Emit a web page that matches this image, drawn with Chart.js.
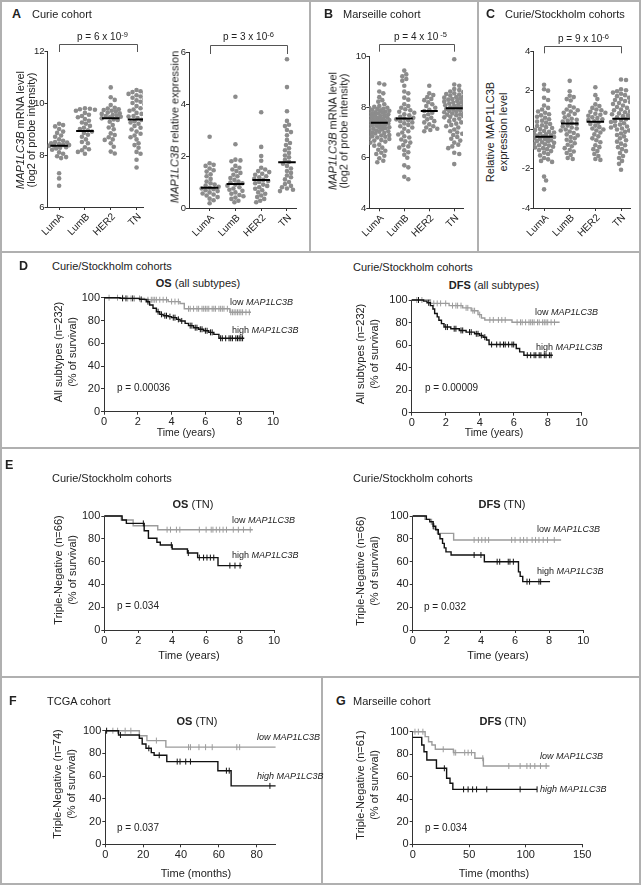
<!DOCTYPE html>
<html>
<head>
<meta charset="utf-8">
<script src="https://cdn.jsdelivr.net/npm/chart.js@4.4.1/dist/chart.umd.min.js"></script>
<style>
html, body { margin: 0; padding: 0; background: #fff; }
#fig { position: relative; width: 641px; height: 885px; overflow: hidden; background: #fff;
       font-family: "Liberation Sans", Arial, sans-serif; color: #222; }
#fig canvas { position: absolute; }
.t { position: absolute; white-space: nowrap; line-height: 1; }
.rl { position: absolute; background: #b0b0b0; }
.sup { position: relative; top: -0.45em; font-size: 0.75em; }
</style>
</head>
<body>
<div id="fig"></div>
<script>
// ---- categories / ticks ----
const subtypes = ['LumA', 'LumB', 'HER2', 'TN'];
const a1Ticks = [6, 8, 10, 12];
const a2Ticks = [0, 2, 4, 6];
const bTicks = [4, 6, 8, 10];
const cTicks = [-4, -2, 0, 2, 4];
const survTicks = [0, 20, 40, 60, 80, 100];
const yearTicks = [0, 2, 4, 6, 8, 10];
const tcgaTicks = [0, 20, 40, 60, 80];
const marsTicks = [0, 50, 100, 150];

// ---- A: Curie cohort, mRNA level ----
const a1LumA = [9.2, 9.15, 9.1, 9.0, 8.9, 8.85, 8.75, 8.7, 8.6, 8.55, 8.5, 8.48, 8.45, 8.42, 8.4, 8.38, 8.36, 8.35, 8.3, 8.28, 8.25, 8.2, 8.1, 8.05, 7.95, 7.92, 7.88, 7.3, 7.1, 6.82];
const a1LumB = [9.8, 9.78, 9.76, 9.74, 9.7, 9.62, 9.55, 9.5, 9.45, 9.38, 9.32, 9.25, 9.2, 9.12, 9.05, 9.0, 8.95, 8.9, 8.85, 8.78, 8.7, 8.6, 8.5, 8.45, 8.3, 8.22, 8.18, 8.12, 8.05];
const a1HER2 = [10.6, 10.22, 10.12, 9.92, 9.82, 9.79, 9.76, 9.73, 9.7, 9.67, 9.63, 9.6, 9.58, 9.54, 9.52, 9.5, 9.47, 9.45, 9.41, 9.37, 9.35, 9.28, 9.15, 9.06, 8.99, 8.83, 8.77, 8.68, 8.6, 8.58, 8.45, 8.32, 8.13, 8.06];
const a1TN = [10.5, 10.45, 10.42, 10.38, 10.35, 10.3, 10.25, 10.2, 10.15, 10.1, 10.05, 10.0, 9.95, 9.88, 9.8, 9.75, 9.7, 9.62, 9.58, 9.5, 9.48, 9.42, 9.35, 9.3, 9.25, 9.2, 9.12, 9.05, 8.98, 8.9, 8.82, 8.75, 8.68, 8.6, 8.45, 8.38, 8.28, 8.12, 8.05, 7.82, 7.52];
const a1Means = [8.36, 8.92, 9.41, 9.37];

// ---- A: Curie cohort, relative expression ----
const a2LumA = [2.74, 1.72, 1.66, 1.62, 1.52, 1.45, 1.4, 1.3, 1.22, 1.12, 1.02, 0.95, 0.9, 0.86, 0.82, 0.78, 0.75, 0.72, 0.68, 0.65, 0.6, 0.56, 0.52, 0.48, 0.42, 0.36, 0.3, 0.18];
const a2LumB = [4.28, 2.45, 1.86, 1.83, 1.8, 1.62, 1.55, 1.48, 1.42, 1.35, 1.28, 1.22, 1.15, 1.08, 1.02, 0.98, 0.95, 0.9, 0.86, 0.8, 0.75, 0.7, 0.66, 0.6, 0.55, 0.5, 0.45, 0.4, 0.35, 0.28, 0.22];
const a2HER2 = [3.68, 2.35, 2.0, 1.82, 1.55, 1.48, 1.42, 1.38, 1.32, 1.28, 1.22, 1.18, 1.12, 1.08, 1.04, 1.0, 0.95, 0.9, 0.85, 0.8, 0.74, 0.68, 0.6, 0.55, 0.48, 0.42, 0.35, 0.28, 0.22];
const a2TN = [5.72, 4.65, 3.72, 3.35, 3.2, 3.15, 3.0, 2.92, 2.8, 2.62, 2.5, 2.42, 2.3, 2.22, 2.12, 2.02, 1.95, 1.85, 1.78, 1.7, 1.62, 1.52, 1.42, 1.35, 1.25, 1.18, 1.1, 1.0, 0.92, 0.85, 0.8, 0.75, 0.7, 0.65];
const a2Means = [0.78, 0.92, 1.08, 1.76];

// ---- B: Marseille cohort ----
const bLumA = [8.95, 8.9, 8.62, 8.55, 8.4, 8.28, 8.22, 8.12, 8.05, 8.02, 7.98, 7.97, 7.94, 7.93, 7.9, 7.88, 7.86, 7.85, 7.82, 7.8, 7.79, 7.76, 7.75, 7.72, 7.7, 7.68, 7.66, 7.65, 7.62, 7.6, 7.58, 7.57, 7.55, 7.52, 7.5, 7.49, 7.47, 7.45, 7.43, 7.41, 7.4, 7.38, 7.36, 7.33, 7.31, 7.3, 7.27, 7.25, 7.24, 7.21, 7.19, 7.17, 7.15, 7.12, 7.1, 7.08, 7.05, 7.03, 7.0, 6.98, 6.96, 6.93, 6.9, 6.88, 6.85, 6.83, 6.8, 6.78, 6.74, 6.7, 6.68, 6.64, 6.6, 6.52, 6.48, 6.4, 6.32, 6.28, 6.2, 6.15, 6.08, 5.98, 5.88, 5.82];
const bLumB = [9.45, 9.3, 9.22, 9.12, 9.05, 8.85, 8.62, 8.55, 8.38, 8.3, 8.12, 8.05, 7.98, 7.92, 7.88, 7.82, 7.78, 7.72, 7.68, 7.62, 7.58, 7.55, 7.52, 7.48, 7.45, 7.4, 7.36, 7.3, 7.25, 7.2, 7.15, 7.05, 7.0, 6.92, 6.85, 6.8, 6.72, 6.65, 6.6, 6.5, 6.45, 6.4, 6.3, 6.22, 6.12, 6.0, 5.7, 5.62, 5.25, 5.15];
const bHER2 = [8.85, 8.55, 8.48, 8.4, 8.33, 8.28, 8.2, 8.12, 8.05, 7.98, 7.9, 7.85, 7.78, 7.72, 7.65, 7.58, 7.52, 7.45, 7.4, 7.32, 7.25, 7.2, 7.15, 7.1, 7.05];
const bTN = [9.9, 8.9, 8.85, 8.72, 8.68, 8.62, 8.6, 8.55, 8.52, 8.5, 8.46, 8.42, 8.4, 8.38, 8.35, 8.32, 8.3, 8.28, 8.25, 8.22, 8.2, 8.18, 8.15, 8.12, 8.1, 8.08, 8.05, 8.02, 8.0, 7.98, 7.95, 7.93, 7.9, 7.88, 7.85, 7.82, 7.8, 7.78, 7.75, 7.72, 7.7, 7.68, 7.65, 7.62, 7.6, 7.55, 7.5, 7.45, 7.4, 7.35, 7.3, 7.25, 7.2, 7.12, 7.05, 7.0, 6.95, 6.9, 6.82, 6.75, 6.68, 6.6, 6.52, 6.45, 6.38, 6.2, 6.15, 5.75];
const bMeans = [7.39, 7.55, 7.85, 7.96];

// ---- C: Curie/Stockholm cohorts ----
const cLumA = [2.28, 2.05, 1.98, 1.62, 1.5, 1.22, 1.1, 1.02, 0.92, 0.85, 0.78, 0.72, 0.65, 0.6, 0.52, 0.45, 0.4, 0.35, 0.28, 0.22, 0.18, 0.12, 0.08, 0.02, -0.02, -0.08, -0.12, -0.15, -0.2, -0.22, -0.25, -0.3, -0.32, -0.35, -0.38, -0.42, -0.45, -0.48, -0.5, -0.55, -0.58, -0.6, -0.65, -0.68, -0.72, -0.75, -0.8, -0.82, -0.88, -0.92, -0.95, -1.0, -1.05, -1.1, -1.18, -1.25, -1.32, -1.45, -1.52, -1.6, -1.65, -2.4, -2.6, -3.05];
const cLumB = [2.48, 1.95, 1.72, 1.65, 1.55, 1.48, 1.2, 1.12, 1.02, 0.98, 0.92, 0.85, 0.8, 0.72, 0.62, 0.55, 0.5, 0.45, 0.4, 0.32, 0.28, 0.2, 0.15, 0.1, 0.05, 0.0, -0.05, -0.1, -0.18, -0.25, -0.3, -0.38, -0.45, -0.52, -0.6, -0.7, -0.78, -0.85, -0.95, -1.05, -1.12, -1.2, -1.3, -1.45, -1.5];
const cHER2 = [2.15, 1.75, 1.55, 1.28, 1.2, 1.1, 1.02, 0.98, 0.9, 0.85, 0.8, 0.75, 0.7, 0.62, 0.58, 0.52, 0.48, 0.42, 0.35, 0.28, 0.2, 0.12, 0.05, 0.0, -0.05, -0.15, -0.25, -0.35, -0.45, -0.55, -0.65, -0.8, -0.9, -1.0, -1.1, -1.25, -1.35, -1.5, -1.55];
const cTN = [2.55, 2.52, 2.05, 2.0, 1.95, 1.88, 1.82, 1.75, 1.7, 1.62, 1.55, 1.5, 1.45, 1.4, 1.35, 1.3, 1.22, 1.15, 1.1, 1.02, 0.98, 0.92, 0.88, 0.82, 0.78, 0.72, 0.68, 0.62, 0.58, 0.52, 0.48, 0.42, 0.38, 0.32, 0.25, 0.2, 0.15, 0.1, 0.05, 0.0, -0.05, -0.12, -0.2, -0.28, -0.35, -0.45, -0.55, -0.62, -0.72, -0.8, -0.9, -1.0, -1.1, -1.2, -1.35, -1.45, -1.6, -1.75, -2.05];
const cMeans = [-0.37, 0.31, 0.39, 0.55];

// ---- D: OS / DFS all subtypes (years, % survival) ----
const dOsLowT = [0, 1.2, 2.4, 3.8, 4.5, 4.75, 7.45];
const dOsLowS = [100, 99.3, 98.2, 96.6, 94.9, 90.3, 87.2];
const dOsLowCens = [0.3, 0.8, 1.1, 1.4, 1.6, 1.8, 2.1, 2.6, 2.8, 2.9, 3.0, 3.1, 3.3, 3.5, 3.7, 4.0, 4.2, 4.4, 5.0, 5.1, 5.3, 5.5, 5.6, 5.8, 5.9, 6.0, 6.1, 6.2, 6.4, 6.5, 6.6, 6.8, 6.9, 7.0, 7.1, 7.3, 7.5, 7.6, 7.7, 7.8, 7.9, 8.0, 8.1, 8.2, 8.4, 8.6];
const dOsHighT = [0, 0.95, 2.1, 2.5, 2.7, 2.9, 3.1, 3.3, 3.5, 3.8, 4.0, 4.3, 4.5, 4.8, 5.0, 5.3, 5.6, 5.9, 6.2, 6.5, 6.8];
const dOsHighS = [100, 99.4, 98.5, 96.5, 93.6, 90.7, 87.7, 85.4, 84.2, 83.4, 82.5, 81, 79.6, 77.5, 75.5, 73.7, 72.3, 71, 69.6, 67.8, 64.4];
const dOsHighCens = [1.1, 1.3, 1.7, 2.2, 2.6, 3.2, 3.4, 3.6, 3.7, 3.9, 4.1, 4.2, 4.4, 4.6, 5.1, 5.2, 5.4, 5.5, 5.7, 5.8, 6.0, 6.1, 6.3, 6.4, 6.9, 7.0, 7.2, 7.4, 7.5, 7.6, 7.8, 7.9, 8.0, 8.1, 8.2];
const dDfsLowT = [0, 1.1, 2.2, 3.0, 3.5, 3.9, 4.1, 4.3, 5.9];
const dDfsLowS = [100, 97, 95, 93, 90.5, 87, 84, 82.3, 80.2];
const dDfsLowCens = [0.3, 0.6, 1.3, 1.5, 1.7, 2.0, 2.4, 2.6, 2.7, 2.9, 3.2, 3.3, 3.6, 3.7, 4.0, 4.6, 4.8, 5.1, 5.3, 5.5, 6.2, 6.4, 6.5, 6.7, 6.9, 7.0, 7.1, 7.2, 7.4, 7.5, 7.7, 7.8, 7.9, 8.0, 8.2, 8.4];
const dDfsHighT = [0, 0.7, 0.9, 1.1, 1.25, 1.35, 1.5, 1.6, 1.75, 1.9, 2.3, 2.8, 3.2, 3.7, 4.0, 4.2, 4.4, 4.55, 6.15, 6.35, 6.6];
const dDfsHighS = [100, 99, 97.5, 95, 92, 88, 85, 82, 79, 76, 74.5, 73, 71.5, 70, 68.5, 67, 64.5, 60.5, 57, 54, 51];
const dDfsHighCens = [0.4, 1.0, 2.0, 2.1, 2.5, 2.6, 2.9, 3.0, 3.4, 3.5, 3.8, 3.9, 4.1, 4.3, 4.7, 5.0, 5.2, 5.4, 5.5, 5.7, 5.9, 6.0, 6.8, 7.0, 7.2, 7.3, 7.5, 7.6, 7.8, 7.9, 8.1, 8.2];

// ---- E: OS / DFS triple-negative (years) ----
const eOsLowT = [0, 1.0, 1.7, 3.15];
const eOsLowS = [100, 96.5, 91.5, 88];
const eOsLowCens = [3.7, 3.9, 4.25, 4.45, 5.6, 6.0, 6.3, 6.4, 6.6, 6.8, 7.0, 7.2, 7.6, 7.9, 8.2, 8.6];
const eOsHighT = [0, 1.05, 1.3, 2.35, 2.6, 3.1, 3.3, 4.0, 4.9, 5.5, 6.7];
const eOsHighS = [100, 96.5, 93.5, 87, 80.5, 77, 74.5, 71, 67.5, 63.5, 56.5];
const eOsHighCens = [2.3, 3.95, 4.95, 5.6, 5.85, 6.05, 6.25, 6.45, 7.4, 7.7, 8.0];
const eDfsLowT = [0, 0.72, 1.1, 1.25, 1.45, 2.4];
const eDfsLowS = [100, 97, 93, 88.5, 84.8, 79];
const eDfsLowCens = [3.6, 3.85, 4.05, 4.25, 4.45, 5.8, 6.0, 6.3, 6.5, 6.7, 7.0, 7.2, 7.4, 7.65, 7.9, 8.3];
const eDfsHighT = [0, 0.8, 1.0, 1.2, 1.35, 1.5, 1.6, 1.75, 1.85, 1.95, 2.25, 4.2, 6.2, 6.3, 6.45];
const eDfsHighS = [100, 97, 95, 91, 88, 84, 80, 76, 72, 68.5, 65.8, 59.9, 51, 47, 42.4];
const eDfsHighCens = [1.2, 3.6, 4.0, 4.95, 5.1, 5.6, 5.7, 5.9, 6.7, 6.85, 7.4, 7.5];

// ---- F: TCGA OS triple-negative (months) ----
const fLowT = [0, 18, 22, 32];
const fLowS = [100, 95.5, 91.3, 85.5];
const fLowCens = [4, 6.5, 10.5, 13.5, 27, 44, 45, 49.5, 53, 56.5, 69.5, 71];
const fHighT = [0, 7, 18, 19.5, 21.5, 24.3, 25.8, 32.5, 59.5, 66.5];
const fHighS = [100, 96.2, 93.3, 88.3, 84.5, 80.7, 78.4, 72.8, 64.8, 51.4];
const fHighCens = [0.7, 8, 23, 28.5, 38, 39.5, 42.5, 45, 64, 65.5, 87];

// ---- G: Marseille DFS triple-negative (months) ----
const gLowT = [0, 11, 14, 17, 20, 36, 55, 62.5];
const gLowS = [100, 95.6, 91.1, 88.2, 84.4, 81.4, 76.4, 69.5];
const gLowCens = [2, 5, 9, 27, 36.5, 38, 46, 49, 52, 62, 85, 95, 101, 104, 108, 113, 118];
const gHighT = [0, 8, 10, 12.5, 21, 30, 33, 35.5];
const gHighS = [95, 88.2, 82.2, 74.9, 67.5, 58.6, 54.2, 48.8];
const gHighCens = [28, 45, 49, 53, 56.5, 65.5, 95, 110];

// ------------------------------------------------------------------
const fig = document.getElementById('fig');
Chart.defaults.font.family = '"Liberation Sans", Arial, sans-serif';
Chart.defaults.color = '#222';
const AXIS = '#333';
const DOT = '#8c8c8c';
const LOW = '#9c9c9c';
const HIGH = '#111';

function canvasAt(x, y, w, h) {
    const c = document.createElement('canvas');
    c.width = w; c.height = h;
    c.style.left = x + 'px'; c.style.top = y + 'px';
    c.style.width = w + 'px'; c.style.height = h + 'px';
    fig.appendChild(c);
    return c;
}

function put(html, x, y, size, opts) {
    opts = opts || {};
    const d = document.createElement('div');
    d.className = 't';
    d.innerHTML = html;
    d.style.left = x + 'px';
    d.style.top = y + 'px';
    d.style.fontSize = size + 'px';
    if (opts.bold) d.style.fontWeight = 'bold';
    d.style.transform = 'translate(' + (opts.center ? '-50%' : '0') + ',-50%)';
    fig.appendChild(d);
}

function yTitle(lines, x, y, size, lh) {
    const d = document.createElement('div');
    d.className = 't';
    d.style.left = x + 'px';
    d.style.top = y + 'px';
    d.style.fontSize = size + 'px';
    d.style.lineHeight = lh + 'px';
    d.style.textAlign = 'center';
    d.style.transform = 'translate(-50%,-50%) rotate(-90deg)';
    d.innerHTML = lines.join('<br>');
    fig.appendChild(d);
}

function hline(x1, x2, y) {
    const d = document.createElement('div');
    d.className = 'rl';
    d.style.left = x1 + 'px'; d.style.top = y + 'px';
    d.style.width = (x2 - x1) + 'px'; d.style.height = '2px';
    fig.appendChild(d);
}
function vline(x, y1, y2) {
    const d = document.createElement('div');
    d.className = 'rl';
    d.style.left = x + 'px'; d.style.top = y1 + 'px';
    d.style.width = '2px'; d.style.height = (y2 - y1) + 'px';
    fig.appendChild(d);
}

// spread the dots of one column sideways so they don't sit on each other
function swarm(values, cat, pxY, pxX) {
    const placed = [];
    const out = [];
    values.slice().sort((a, b) => b - a).forEach(v => {
        const py = v * pxY;
        let best = 0, bestD = -1;
        for (let k = 0; k <= 20; k++) {
            const off = k % 2 ? (k + 1) / 2 : -k / 2;
            let d = Infinity;
            placed.forEach(p => { d = Math.min(d, Math.hypot(off - p.off, py - p.py)); });
            if (d >= 4.2) { best = off; bestD = d; break; }
            if (d > bestD) { bestD = d; best = off; }
        }
        placed.push({ off: best, py: py });
        out.push({ x: cat + best / pxX, y: v });
    });
    return out;
}

const bracketPlugin = {
    id: 'bracket',
    afterDraw(chart, args, opts) {
        const ctx = chart.ctx, xs = chart.scales.x, top = chart.chartArea.top;
        const x1 = xs.getPixelForValue(1), x2 = xs.getPixelForValue(4);
        ctx.save();
        ctx.strokeStyle = '#555';
        ctx.lineWidth = 1;
        ctx.beginPath();
        ctx.moveTo(Math.round(x1) + 0.5, top + opts.bottom);
        ctx.lineTo(Math.round(x1) + 0.5, Math.round(top + opts.top) + 0.5);
        ctx.lineTo(Math.round(x2) + 0.5, Math.round(top + opts.top) + 0.5);
        ctx.lineTo(Math.round(x2) + 0.5, top + opts.bottom);
        ctx.stroke();
        ctx.restore();
    }
};

function axisCommon(ticks, size) {
    return {
        afterBuildTicks: s => { s.ticks = ticks.map(v => ({ value: v })); },
        grid: { display: true, drawOnChartArea: false, drawTicks: true, tickLength: 3, color: AXIS, lineWidth: 1 },
        border: { display: true, color: AXIS, width: 1 },
        ticks: { font: { size: size }, color: '#222', padding: 1, autoSkip: false }
    };
}

function dotPlot(area, yMin, yMax, yTicks, xMin, xMax, groups, means, br) {
    const [L, T, R, B] = area;
    const cx = Math.floor(L) - 22, cy = Math.floor(T) - 34;
    const cw = Math.ceil(R) + 8 - cx, ch = Math.ceil(B) + 46 - cy;
    const pxY = (B - T) / (yMax - yMin);
    const pxX = (R - L) / (xMax - xMin);
    let dots = [];
    groups.forEach((g, i) => { dots = dots.concat(swarm(g, i + 1, pxY, pxX)); });
    const meanPts = [];
    means.forEach((m, i) => {
        meanPts.push({ x: i + 1 - 0.34, y: m }, { x: i + 1 + 0.34, y: m }, { x: i + 1.5, y: null });
    });
    const xAx = axisCommon([1, 2, 3, 4], 10);
    xAx.type = 'linear'; xAx.min = xMin; xAx.max = xMax;
    xAx.afterFit = s => { s.height = cy + ch - B; };
    xAx.ticks.callback = v => subtypes[v - 1];
    xAx.ticks.minRotation = 45; xAx.ticks.maxRotation = 45;
    xAx.ticks.labelOffset = 3;
    const yAx = axisCommon(yTicks, 9.5);
    yAx.min = yMin; yAx.max = yMax;
    yAx.ticks.padding = 0;
    yAx.afterFit = s => { s.width = L - cx; };
    new Chart(canvasAt(cx, cy, cw, ch), {
        type: 'scatter',
        data: {
            datasets: [
                { type: 'line', data: meanPts, borderColor: '#000', borderWidth: 2, pointRadius: 0, spanGaps: false, fill: false },
                { data: dots, pointRadius: 2.3, pointBackgroundColor: DOT, pointBorderWidth: 0 }
            ]
        },
        options: {
            responsive: false, animation: false, devicePixelRatio: 1, events: [],
            layout: { padding: { top: T - cy, right: cx + cw - R, left: 0, bottom: 0 } },
            plugins: { legend: { display: false }, tooltip: { enabled: false }, bracket: br },
            scales: { x: xAx, y: yAx }
        },
        plugins: [bracketPlugin]
    });
}

function survAt(t, ts, ss) {
    let s = ss[0];
    ts.forEach((ti, i) => { if (ti <= t) s = ss[i]; });
    return s;
}

function kmPlot(area, xMax, xTicks, curves) {
    const [L, T, R, B] = area;
    const cx = Math.floor(L) - 34, cy = Math.floor(T) - 8;
    const cw = Math.ceil(R) + 14 - cx, ch = Math.ceil(B) + 22 - cy;
    const datasets = [];
    curves.forEach(c => {
        const pts = c.t.map((t, i) => ({ x: t, y: c.s[i] }));
        pts.push({ x: c.end, y: c.s[c.s.length - 1] });
        datasets.push({ type: 'line', data: pts, stepped: 'before', borderColor: c.color, borderWidth: 1.4,
                        pointRadius: 0, fill: false, clip: false });
        datasets.push({ data: c.cens.map(t => ({ x: t, y: survAt(t, c.t, c.s) })), showLine: false,
                        pointStyle: 'line', pointRotation: 90, pointRadius: 3,
                        pointBorderColor: c.color, pointBorderWidth: 1, clip: false });
    });
    const xAx = axisCommon(xTicks, 11);
    xAx.type = 'linear'; xAx.min = 0; xAx.max = xMax;
    xAx.afterFit = s => { s.height = cy + ch - B; };
    xAx.ticks.maxRotation = 0;
    const yAx = axisCommon(survTicks, 11);
    yAx.min = 0; yAx.max = 100;
    yAx.afterFit = s => { s.width = L - cx; };
    new Chart(canvasAt(cx, cy, cw, ch), {
        type: 'scatter',
        data: { datasets: datasets },
        options: {
            responsive: false, animation: false, devicePixelRatio: 1, events: [],
            layout: { padding: { top: T - cy, right: cx + cw - R, left: 0, bottom: 0 } },
            plugins: { legend: { display: false }, tooltip: { enabled: false } },
            scales: { x: xAx, y: yAx }
        }
    });
}

// ---- panel frames ----
hline(0, 641, 0); hline(0, 641, 883);
vline(0, 0, 885); vline(639, 0, 885);
hline(0, 641, 251);
vline(309, 0, 252); vline(477, 0, 252);
hline(0, 641, 447);
hline(0, 641, 676);
vline(321, 676, 885);

// ---- top row: dot plots ----
dotPlot([47.5, 51, 143, 207], 6, 12, a1Ticks, 0.55, 4.25, [a1LumA, a1LumB, a1HER2, a1TN], a1Means, { top: -7, bottom: 1 });
dotPlot([189, 52, 296, 208], 0, 6, a2Ticks, 0.2, 4.35, [a2LumA, a2LumB, a2HER2, a2TN], a2Means, { top: -7, bottom: 2 });
dotPlot([369.3, 56.7, 463, 208.3], 4, 10, bTicks, 0.6, 4.35, [bLumA, bLumB, bHER2, bTN], bMeans, { top: -12.7, bottom: -5 });
dotPlot([533.3, 51, 630, 208], -4, 4, cTicks, 0.58, 4.35, [cLumA, cLumB, cHER2, cTN], cMeans, { top: -5.3, bottom: 2.3 });

// ---- survival curves ----
kmPlot([104, 297.7, 273, 411.7], 10, yearTicks, [
    { t: dOsHighT, s: dOsHighS, end: 8.3, cens: dOsHighCens, color: HIGH },
    { t: dOsLowT, s: dOsLowS, end: 8.7, cens: dOsLowCens, color: LOW }]);
kmPlot([411.7, 300, 581.7, 412.7], 10, yearTicks, [
    { t: dDfsHighT, s: dDfsHighS, end: 8.3, cens: dDfsHighCens, color: HIGH },
    { t: dDfsLowT, s: dDfsLowS, end: 8.7, cens: dDfsLowCens, color: LOW }]);
kmPlot([104.3, 516, 274, 630], 10, yearTicks, [
    { t: eOsHighT, s: eOsHighS, end: 8.1, cens: eOsHighCens, color: HIGH },
    { t: eOsLowT, s: eOsLowS, end: 8.75, cens: eOsLowCens, color: LOW }]);
kmPlot([412.7, 516, 583.3, 630], 10, yearTicks, [
    { t: eDfsHighT, s: eDfsHighS, end: 8.05, cens: eDfsHighCens, color: HIGH },
    { t: eDfsLowT, s: eDfsLowS, end: 8.7, cens: eDfsLowCens, color: LOW }]);
kmPlot([105.3, 730.7, 275.6, 844.3], 90, tcgaTicks, [
    { t: fHighT, s: fHighS, end: 90, cens: fHighCens, color: HIGH },
    { t: fLowT, s: fLowS, end: 90, cens: fLowCens, color: LOW }]);
kmPlot([412.7, 731.7, 582.3, 844.3], 150, marsTicks, [
    { t: gHighT, s: gHighS, end: 110, cens: gHighCens, color: HIGH },
    { t: gLowT, s: gLowS, end: 121, cens: gLowCens, color: LOW }]);

// ---- texts ----
const gene = '<i>MAP1LC3B</i>';
put('A', 12, 14, 12.5, { bold: true }); put('Curie cohort', 32, 14, 11);
put('B', 324, 14, 12.5, { bold: true }); put('Marseille cohort', 343, 14, 11);
put('C', 486, 14, 12.5, { bold: true }); put('Curie/Stockholm cohorts', 505, 14, 11);

put('p = 6 x 10<span class="sup">-9</span>', 77, 37, 10);
put('p = 3 x 10<span class="sup">-6</span>', 223, 37, 10);
put('p = 4 x 10<span class="sup"> -5</span>', 394, 37, 10);
put('p = 9 x 10<span class="sup">-6</span>', 558, 39, 10);

yTitle([gene + ' mRNA level', '(log2 of probe intensity)'], 25, 130, 11, 10.5);
yTitle([gene + ' relative expression'], 175, 127, 11, 11);
yTitle([gene + ' mRNA level', '(log2 of probe intensity)'], 337.5, 131, 11, 10.5);
yTitle(['Relative MAP1LC3B', 'expression level'], 495.5, 132, 11, 12.5);

put('D', 19, 266, 12.5, { bold: true }); put('Curie/Stockholm cohorts', 52, 266, 11);
put('Curie/Stockholm cohorts', 353, 267, 11);
put('<b>OS</b> (all subtypes)', 198, 283, 11, { center: true });
put('<b>DFS</b> (all subtypes)', 494, 285, 11, { center: true });
yTitle(['All subtypes (n=232)', '(% of survival)'], 65, 352, 11, 13.5);
yTitle(['All subtypes (n=232)', '(% of survival)'], 366.5, 354, 11, 13.5);
put('low ' + gene, 230, 302, 9); put('high ' + gene, 232, 330, 9);
put('low ' + gene, 535, 312, 9); put('high ' + gene, 536, 347, 9);
put('p = 0.00036', 117, 388, 10); put('p = 0.00009', 425, 388, 10);
put('Time (years)', 186, 432, 10.5, { center: true });
put('Time (years)', 494, 432, 10.5, { center: true });

put('E', 5, 465, 12.5, { bold: true });
put('Curie/Stockholm cohorts', 52, 478, 11);
put('Curie/Stockholm cohorts', 353, 478, 11);
put('<b>OS</b> (TN)', 193, 504, 11, { center: true });
put('<b>DFS</b> (TN)', 502, 504, 11, { center: true });
yTitle(['Triple-Negative (n=66)', '(% of survival)'], 65, 570, 11, 13.5);
yTitle(['Triple-Negative (n=66)', '(% of survival)'], 367, 571, 11, 13.5);
put('low ' + gene, 232, 520, 9); put('high ' + gene, 232, 555, 9);
put('low ' + gene, 537, 529, 9); put('high ' + gene, 537, 571, 9);
put('p = 0.034', 117, 606, 10); put('p = 0.032', 424, 607, 10);
put('Time (years)', 189, 655, 11, { center: true });
put('Time (years)', 498, 655, 11, { center: true });

put('F', 9, 701, 12.5, { bold: true }); put('TCGA cohort', 47, 701, 11);
put('G', 336, 701, 12.5, { bold: true }); put('Marseille cohort', 353, 701, 11);
put('<b>OS</b> (TN)', 197, 721, 11, { center: true });
put('<b>DFS</b> (TN)', 503, 721, 11, { center: true });
yTitle(['Triple-Negative (n=74)', '(% of survival)'], 64, 784, 11, 13.5);
yTitle(['Triple-Negative (n=61)', '(% of survival)'], 367, 785, 11, 13.5);
put('<i>low MAP1LC3B</i>', 257, 737, 9); put('<i>high MAP1LC3B</i>', 257, 776, 9);
put('<i>low MAP1LC3B</i>', 540, 756, 9); put('<i>high MAP1LC3B</i>', 540, 789, 9);
put('p = 0.037', 117, 828, 10); put('p = 0.034', 425, 828, 10);
put('Time (months)', 196, 873, 11, { center: true });
put('Time (months)', 494, 873, 11, { center: true });
</script>
</body>
</html>
